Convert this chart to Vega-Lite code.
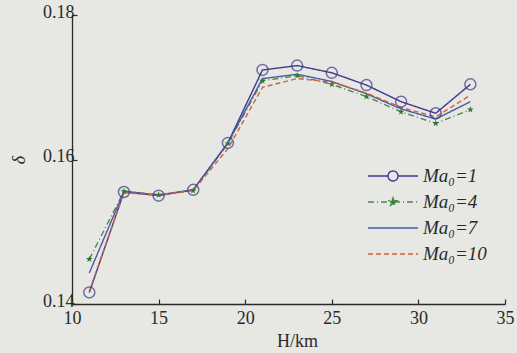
{
  "$schema": "https://vega.github.io/schema/vega-lite/v6.json",
  "width": 433,
  "height": 289,
  "autosize": "none",
  "padding": {"left": 72, "top": 15, "right": 12, "bottom": 49},
  "background": "#e7e7e3",
  "config": {
    "view": {"stroke": null},
    "font": "Liberation Serif",
    "axis": {
      "domainColor": "#2a2a2a", "domainWidth": 1.3, "tickColor": "#2a2a2a", "tickWidth": 1.2,
      "tickSize": -5, "labelFont": "Liberation Serif", "labelFontSize": 18, "labelColor": "#2a2a2a",
      "titleFont": "Liberation Serif", "titleFontSize": 18, "titleColor": "#2a2a2a", "titleFontWeight": "normal",
      "grid": false
    }
  },
  "data": {"values": [
    {"H": 11, "delta": 0.1416, "series": "Ma₀=1"},
    {"H": 13, "delta": 0.1555, "series": "Ma₀=1"},
    {"H": 15, "delta": 0.1550, "series": "Ma₀=1"},
    {"H": 17, "delta": 0.1558, "series": "Ma₀=1"},
    {"H": 19, "delta": 0.1623, "series": "Ma₀=1"},
    {"H": 21, "delta": 0.1724, "series": "Ma₀=1"},
    {"H": 23, "delta": 0.1730, "series": "Ma₀=1"},
    {"H": 25, "delta": 0.1720, "series": "Ma₀=1"},
    {"H": 27, "delta": 0.1703, "series": "Ma₀=1"},
    {"H": 29, "delta": 0.1680, "series": "Ma₀=1"},
    {"H": 31, "delta": 0.1664, "series": "Ma₀=1"},
    {"H": 33, "delta": 0.1704, "series": "Ma₀=1"},
    {"H": 11, "delta": 0.1462, "series": "Ma₀=4"},
    {"H": 13, "delta": 0.1556, "series": "Ma₀=4"},
    {"H": 15, "delta": 0.1551, "series": "Ma₀=4"},
    {"H": 17, "delta": 0.1557, "series": "Ma₀=4"},
    {"H": 19, "delta": 0.1622, "series": "Ma₀=4"},
    {"H": 21, "delta": 0.1709, "series": "Ma₀=4"},
    {"H": 23, "delta": 0.1716, "series": "Ma₀=4"},
    {"H": 25, "delta": 0.1704, "series": "Ma₀=4"},
    {"H": 27, "delta": 0.1687, "series": "Ma₀=4"},
    {"H": 29, "delta": 0.1666, "series": "Ma₀=4"},
    {"H": 31, "delta": 0.1650, "series": "Ma₀=4"},
    {"H": 33, "delta": 0.1669, "series": "Ma₀=4"},
    {"H": 11, "delta": 0.1443, "series": "Ma₀=7"},
    {"H": 13, "delta": 0.1556, "series": "Ma₀=7"},
    {"H": 15, "delta": 0.1551, "series": "Ma₀=7"},
    {"H": 17, "delta": 0.1558, "series": "Ma₀=7"},
    {"H": 19, "delta": 0.1623, "series": "Ma₀=7"},
    {"H": 21, "delta": 0.1712, "series": "Ma₀=7"},
    {"H": 23, "delta": 0.1718, "series": "Ma₀=7"},
    {"H": 25, "delta": 0.1708, "series": "Ma₀=7"},
    {"H": 27, "delta": 0.1691, "series": "Ma₀=7"},
    {"H": 29, "delta": 0.1670, "series": "Ma₀=7"},
    {"H": 31, "delta": 0.1656, "series": "Ma₀=7"},
    {"H": 33, "delta": 0.1680, "series": "Ma₀=7"},
    {"H": 11, "delta": 0.1418, "series": "Ma₀=10"},
    {"H": 13, "delta": 0.1554, "series": "Ma₀=10"},
    {"H": 15, "delta": 0.1551, "series": "Ma₀=10"},
    {"H": 17, "delta": 0.1557, "series": "Ma₀=10"},
    {"H": 19, "delta": 0.1615, "series": "Ma₀=10"},
    {"H": 21, "delta": 0.1700, "series": "Ma₀=10"},
    {"H": 23, "delta": 0.1712, "series": "Ma₀=10"},
    {"H": 25, "delta": 0.1707, "series": "Ma₀=10"},
    {"H": 27, "delta": 0.1692, "series": "Ma₀=10"},
    {"H": 29, "delta": 0.1672, "series": "Ma₀=10"},
    {"H": 31, "delta": 0.1659, "series": "Ma₀=10"},
    {"H": 33, "delta": 0.1689, "series": "Ma₀=10"}
  ]},
  "encoding": {
    "x": {"field": "H", "type": "quantitative", "scale": {"domain": [10, 35], "nice": false, "zero": false},
      "axis": {"values": [10, 15, 20, 25, 30, 35], "title": "H/km", "labelPadding": 10, "titlePadding": 5, "titleX": 225, "labelFlush": false}},
    "y": {"field": "delta", "type": "quantitative", "scale": {"domain": [0.14, 0.18], "nice": false, "zero": false},
      "axis": {"values": [0.14, 0.16, 0.18], "format": ".2f", "title": "δ", "titleFontStyle": "italic", "labelPadding": 3, "labelOffset": -3, "titlePadding": 14, "labelFlush": false}}
  },
  "layer": [
    {
      "mark": {"type": "line", "strokeWidth": 1.4},
      "encoding": {
        "color": {"field": "series", "type": "nominal",
          "scale": {"domain": ["Ma₀=1", "Ma₀=4", "Ma₀=7", "Ma₀=10"], "range": ["#3e3a8c", "#4a8a4a", "#4a5aa8", "#d4603c"]},
          "legend": {
            "title": null, "orient": "none", "legendX": 310, "legendY": 150, "padding": 0,
            "symbolType": "stroke", "symbolSize": 400, "symbolStrokeWidth": 1.4, "symbolFillColor": "transparent",
            "labelFont": "Liberation Serif", "labelFontSize": 19, "labelFontStyle": "italic", "labelColor": "#2a2a2a",
            "labelOffset": 19, "rowPadding": 5,
            "encode": {"symbols": {"update": {
              "shape": {"signal": "datum.value === 'Ma₀=1' ? 'M-2.5,0L-0.5,0M0.5,0L2.5,0M0.5,0A0.5,0.5,0,1,1,-0.5,0A0.5,0.5,0,1,1,0.5,0' : datum.value === 'Ma₀=4' ? 'M-2.5,0L2.5,0M0,-0.4L0.094,-0.13L0.38,-0.124L0.152,0.05L0.235,0.324L0,0.16L-0.235,0.324L-0.152,0.05L-0.38,-0.124L-0.094,-0.13Z' : 'M-2.5,0L2.5,0'"},
              "fill": {"signal": "datum.value === 'Ma₀=4' ? '#2f7a2f' : 'transparent'"}
            }}}
          }},
        "strokeDash": {"field": "series", "type": "nominal",
          "scale": {"domain": ["Ma₀=1", "Ma₀=4", "Ma₀=7", "Ma₀=10"], "range": [[1, 0], [6, 3, 1, 3], [1, 0], [5, 3]]},
          "legend": null}
      }
    },
    {
      "transform": [{"filter": "datum.series === 'Ma₀=1'"}],
      "mark": {"type": "point", "shape": "circle", "filled": false, "size": 121, "strokeWidth": 1.5, "color": "#3e3a8c"}
    },
    {
      "transform": [{"filter": "datum.series === 'Ma₀=4'"}],
      "mark": {"type": "point", "shape": "M0,-1L0.235,-0.324L0.951,-0.309L0.38,0.124L0.588,0.809L0,0.4L-0.588,0.809L-0.38,0.124L-0.951,-0.309L-0.235,-0.324Z", "filled": true, "size": 50, "color": "#2f7a2f", "opacity": 1}
    }
  ]
}
